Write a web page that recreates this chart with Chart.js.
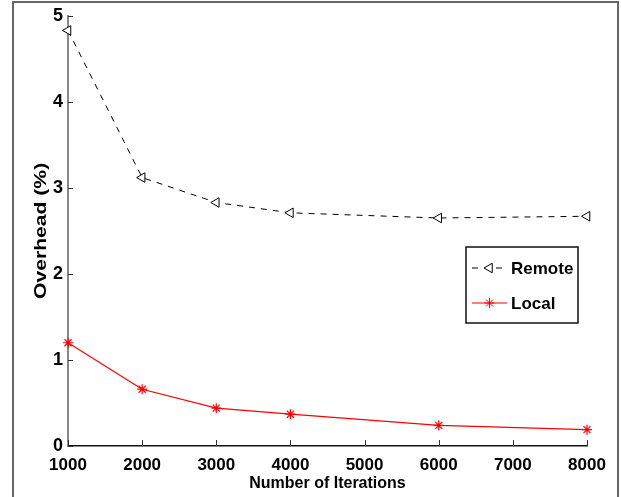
<!DOCTYPE html>
<html>
<head>
<meta charset="utf-8">
<script src="https://cdn.jsdelivr.net/npm/chart.js@4.4.1/dist/chart.umd.min.js"></script>
<style>
  html, body { margin: 0; padding: 0; background: #fff; }
  #wrap { width: 621px; height: 497px; position: relative; }
</style>
</head>
<body>
<div id="wrap"><canvas id="grafico"></canvas></div>
<script>
const iteraciones = [1000, 2000, 3000, 4000, 6000, 8000];
const remoto = [4.83, 3.12, 2.83, 2.71, 2.65, 2.67];
const local = [1.20, 0.66, 0.44, 0.37, 0.24, 0.19];
const ticksX = [1000, 2000, 3000, 4000, 5000, 6000, 7000, 8000];
const ticksY = [0, 1, 2, 3, 4, 5];
const nombres = ["Remote", "Local"];
const tituloY = "Overhead (%)";

const fuente = "'Liberation Sans', Arial, sans-serif";

// marco de la figura + ticks hacia adentro + titulo Y + leyenda
const extras = {
  id: "extras",
  afterDraw(chart) {
    const ctx = chart.ctx;
    const a = chart.chartArea;
    const sx = chart.scales.x, sy = chart.scales.y;
    ctx.save();
    // marco exterior
    ctx.strokeStyle = "#666";
    ctx.lineWidth = 2;
    ctx.beginPath();
    ctx.moveTo(13, 497);
    ctx.lineTo(13, 2);
    ctx.lineTo(618, 2);
    ctx.lineTo(618, 497);
    ctx.stroke();

    // ticks
    ctx.lineWidth = 1;
    ctx.strokeStyle = "#333";
    ticksX.forEach(v => {
      const x = Math.round(sx.getPixelForValue(v)) + 0.5;
      ctx.beginPath();
      ctx.moveTo(x, a.bottom);
      ctx.lineTo(x, a.bottom - 6);
      ctx.stroke();
    });
    ticksY.forEach(v => {
      const y = Math.round(sy.getPixelForValue(v)) + 0.5;
      ctx.beginPath();
      ctx.moveTo(a.left, y);
      ctx.lineTo(a.left + 5, y);
      ctx.stroke();
    });

    // titulo del eje Y (estirado como en el original)
    ctx.save();
    ctx.translate(42, (a.top + a.bottom) / 2);
    ctx.rotate(-Math.PI / 2);
    ctx.scale(1.32, 1);
    ctx.fillStyle = "#000";
    ctx.font = "bold 16px " + fuente;
    ctx.textAlign = "center";
    ctx.textBaseline = "middle";
    ctx.fillText(tituloY, 0, 0);
    ctx.restore();

    // leyenda
    ctx.fillStyle = "#fff";
    ctx.fillRect(466, 247, 112, 76);
    ctx.strokeStyle = "#111";
    ctx.lineWidth = 1.5;
    ctx.strokeRect(466, 247, 112, 76);
    const filas = [268, 303];
    chart.data.datasets.forEach((ds, i) => {
      const y = filas[i];
      ctx.strokeStyle = ds.borderColor;
      ctx.lineWidth = ds.borderWidth;
      ctx.setLineDash(ds.borderDash || []);
      ctx.beginPath();
      ctx.moveTo(472, y);
      ctx.lineTo(507, y);
      ctx.stroke();
      ctx.setLineDash([]);
      ctx.fillStyle = "#fff";
      ctx.strokeStyle = ds.borderColor;
      ctx.lineWidth = 1;
      Chart.helpers.drawPoint(ctx, {
        pointStyle: ds.pointStyle,
        rotation: ds.pointRotation || 0,
        radius: ds.pointRadius,
        borderWidth: 1
      }, 489.5, y);
      ctx.fillStyle = "#000";
      ctx.font = "bold 17px " + fuente;
      ctx.textAlign = "left";
      ctx.textBaseline = "middle";
      ctx.fillText(ds.label, 511, y + 1);
    });
    ctx.restore();
  }
};

new Chart(document.getElementById("grafico").getContext("2d"), {
  type: "line",
  data: {
    datasets: [
      {
        label: nombres[0],
        data: iteraciones.map((x, i) => ({ x: x, y: remoto[i] })),
        borderColor: "#000",
        backgroundColor: "#fff",
        borderWidth: 1,
        borderDash: [6, 6],
        pointStyle: "triangle",
        pointRotation: -90,
        pointRadius: 5.5,
        pointBorderWidth: 1,
        tension: 0,
        clip: false
      },
      {
        label: nombres[1],
        data: iteraciones.map((x, i) => ({ x: x, y: local[i] })),
        borderColor: "#ff0000",
        backgroundColor: "#ff0000",
        borderWidth: 1.2,
        pointStyle: "star",
        pointRadius: 5,
        pointBorderWidth: 1.2,
        tension: 0,
        clip: false
      }
    ]
  },
  options: {
    responsive: true,
    maintainAspectRatio: false,
    animation: false,
    layout: { padding: { left: 25, right: 34, top: 15, bottom: 0 } },
    plugins: {
      legend: { display: false },
      tooltip: { enabled: false }
    },
    scales: {
      x: {
        type: "linear",
        min: 1000,
        max: 8000,
        afterFit: s => { s.height = 51; },
        afterBuildTicks: s => { s.ticks = ticksX.map(v => ({ value: v })); },
        grid: { display: false, drawTicks: false },
        border: { display: true, color: "#111", width: 1.5 },
        ticks: {
          padding: 9,
          color: "#000",
          font: { family: fuente, size: 17, weight: "bold" },
          callback: v => String(v)
        },
        title: {
          display: true,
          text: "Number of Iterations",
          color: "#000",
          padding: { top: 0, bottom: 4 },
          font: { family: fuente, size: 16, weight: "bold" }
        }
      },
      y: {
        min: 0,
        max: 5,
        afterFit: s => { s.width = 43; },
        afterBuildTicks: s => { s.ticks = ticksY.map(v => ({ value: v })); },
        grid: { display: false, drawTicks: false },
        border: { display: true, color: "#888", width: 2 },
        ticks: {
          padding: 5,
          color: "#000",
          font: { family: fuente, size: 18, weight: "bold" },
          callback: v => String(v)
        },
        title: { display: false }
      }
    }
  },
  plugins: [extras]
});
</script>
</body>
</html>
